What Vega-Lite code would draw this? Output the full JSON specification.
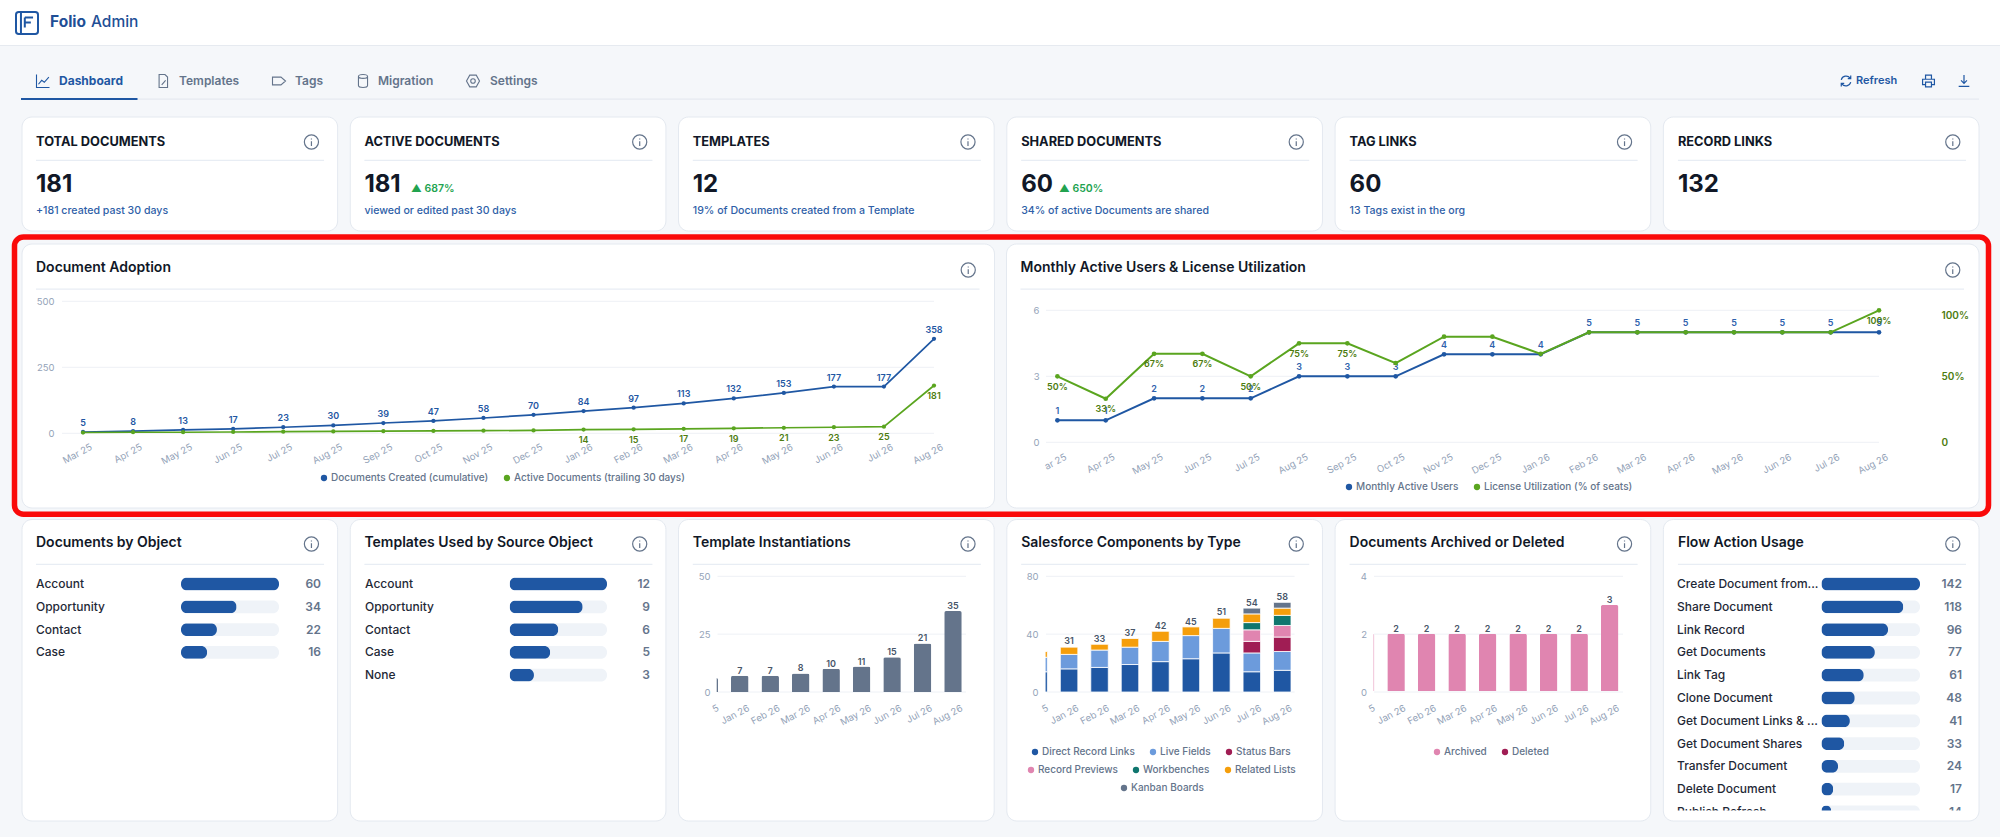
{
"$schema":"https://vega.github.io/schema/vega-lite/v6.json",
"width":2000,"height":837,"padding":0,"autosize":{"type":"none"},
"background":"#f5f7fa",
"config":{"font":"Inter","view":{"stroke":null},
 "scale":{"bandPaddingInner":0,"bandPaddingOuter":0,"barBandPaddingInner":0,"rectBandPaddingInner":0},
 "axis":{"domain":false,"ticks":false,"grid":false,"labelFont":"Inter","labelFontSize":9.5,"labelColor":"#94a3b8","labelPadding":0,"labelOverlap":false,"labelBound":false},
 "point":{"opacity":1}},
"datasets":{
"kpi":[
{"card":"TOTAL DOCUMENTS","value":"181","note":"+181 created past 30 days"},
{"card":"ACTIVE DOCUMENTS","value":"181","note":"viewed or edited past 30 days"},
{"card":"TEMPLATES","value":"12","note":"19% of Documents created from a Template"},
{"card":"SHARED DOCUMENTS","value":"60","note":"34% of active Documents are shared"},
{"card":"TAG LINKS","value":"60","note":"13 Tags exist in the org"},
{"card":"RECORD LINKS","value":"132","note":""}],
"wide":[{"card":"Document Adoption"},{"card":"Monthly Active Users & License Utilization"}],
"boards":[{"card":"Documents by Object"},{"card":"Templates Used by Source Object"},{"card":"Template Instantiations"},{"card":"Salesforce Components by Type"},{"card":"Documents Archived or Deleted"},{"card":"Flow Action Usage"}],
"tabs":[{"name":"Dashboard","i":0,"icon":"chart"},{"name":"Templates","i":1,"icon":"file"},{"name":"Tags","i":2,"icon":"tag"},{"name":"Migration","i":3,"icon":"db"},{"name":"Settings","i":4,"icon":"gear"}],
"tools":[{"i":0,"icon":"refresh"},{"i":1,"icon":"print"},{"i":2,"icon":"download"}],
"adoption":[
{"month":"Mar 25","series":"Created","value":5,"label":"5"},{"month":"Apr 25","series":"Created","value":8,"label":"8"},{"month":"May 25","series":"Created","value":13,"label":"13"},{"month":"Jun 25","series":"Created","value":17,"label":"17"},{"month":"Jul 25","series":"Created","value":23,"label":"23"},{"month":"Aug 25","series":"Created","value":30,"label":"30"},{"month":"Sep 25","series":"Created","value":39,"label":"39"},{"month":"Oct 25","series":"Created","value":47,"label":"47"},{"month":"Nov 25","series":"Created","value":58,"label":"58"},{"month":"Dec 25","series":"Created","value":70,"label":"70"},{"month":"Jan 26","series":"Created","value":84,"label":"84"},{"month":"Feb 26","series":"Created","value":97,"label":"97"},{"month":"Mar 26","series":"Created","value":113,"label":"113"},{"month":"Apr 26","series":"Created","value":132,"label":"132"},{"month":"May 26","series":"Created","value":153,"label":"153"},{"month":"Jun 26","series":"Created","value":177,"label":"177"},{"month":"Jul 26","series":"Created","value":177,"label":"177"},{"month":"Aug 26","series":"Created","value":358,"label":"358"},
{"month":"Mar 25","series":"Active","value":3,"label":""},{"month":"Apr 25","series":"Active","value":4,"label":""},{"month":"May 25","series":"Active","value":4,"label":""},{"month":"Jun 25","series":"Active","value":5,"label":""},{"month":"Jul 25","series":"Active","value":6,"label":""},{"month":"Aug 25","series":"Active","value":7,"label":""},{"month":"Sep 25","series":"Active","value":8,"label":""},{"month":"Oct 25","series":"Active","value":9,"label":""},{"month":"Nov 25","series":"Active","value":10,"label":""},{"month":"Dec 25","series":"Active","value":11,"label":""},{"month":"Jan 26","series":"Active","value":14,"label":"14"},{"month":"Feb 26","series":"Active","value":15,"label":"15"},{"month":"Mar 26","series":"Active","value":17,"label":"17"},{"month":"Apr 26","series":"Active","value":19,"label":"19"},{"month":"May 26","series":"Active","value":21,"label":"21"},{"month":"Jun 26","series":"Active","value":23,"label":"23"},{"month":"Jul 26","series":"Active","value":25,"label":"25"},{"month":"Aug 26","series":"Active","value":181,"label":"181"}],
"mau":[
{"month":"Mar 25","users":1,"util":50,"util_label":"50%"},{"month":"Apr 25","users":1,"util":33,"util_label":"33%"},{"month":"May 25","users":2,"util":67,"util_label":"67%"},{"month":"Jun 25","users":2,"util":67,"util_label":"67%"},{"month":"Jul 25","users":2,"util":50,"util_label":"50%"},{"month":"Aug 25","users":3,"util":75,"util_label":"75%"},{"month":"Sep 25","users":3,"util":75,"util_label":"75%"},{"month":"Oct 25","users":3,"util":60,"util_label":""},{"month":"Nov 25","users":4,"util":80,"util_label":""},{"month":"Dec 25","users":4,"util":80,"util_label":""},{"month":"Jan 26","users":4,"util":67,"util_label":""},{"month":"Feb 26","users":5,"util":83.3,"util_label":""},{"month":"Mar 26","users":5,"util":83.3,"util_label":""},{"month":"Apr 26","users":5,"util":83.3,"util_label":""},{"month":"May 26","users":5,"util":83.3,"util_label":""},{"month":"Jun 26","users":5,"util":83.3,"util_label":""},{"month":"Jul 26","users":5,"util":83.3,"util_label":""},{"month":"Aug 26","users":5,"util":100,"util_label":"100%"}],
"docs":[{"name":"Account","count":60},{"name":"Opportunity","count":34},{"name":"Contact","count":22},{"name":"Case","count":16}],
"used":[{"name":"Account","count":12},{"name":"Opportunity","count":9},{"name":"Contact","count":6},{"name":"Case","count":5},{"name":"None","count":3}],
"flow":[{"name":"Create Document from...","count":142},{"name":"Share Document","count":118},{"name":"Link Record","count":96},{"name":"Get Documents","count":77},{"name":"Link Tag","count":61},{"name":"Clone Document","count":48},{"name":"Get Document Links & ...","count":41},{"name":"Get Document Shares","count":33},{"name":"Transfer Document","count":24},{"name":"Delete Document","count":17},{"name":"Publish Refresh","count":14}],
"inst":[{"month":"Dec 25","count":6,"label":""},{"month":"Jan 26","count":7,"label":"7"},{"month":"Feb 26","count":7,"label":"7"},{"month":"Mar 26","count":8,"label":"8"},{"month":"Apr 26","count":10,"label":"10"},{"month":"May 26","count":11,"label":"11"},{"month":"Jun 26","count":15,"label":"15"},{"month":"Jul 26","count":21,"label":"21"},{"month":"Aug 26","count":35,"label":"35"}],
"arch":[{"month":"Dec 25","count":2,"label":""},{"month":"Jan 26","count":2,"label":"2"},{"month":"Feb 26","count":2,"label":"2"},{"month":"Mar 26","count":2,"label":"2"},{"month":"Apr 26","count":2,"label":"2"},{"month":"May 26","count":2,"label":"2"},{"month":"Jun 26","count":2,"label":"2"},{"month":"Jul 26","count":2,"label":"2"},{"month":"Aug 26","count":3,"label":"3"}],
"comp":[
{"month":"Dec 25","type":"Direct Record Links","k":1,"count":14},{"month":"Dec 25","type":"Live Fields","k":2,"count":10},{"month":"Dec 25","type":"Related Lists","k":6,"count":4},
{"month":"Jan 26","type":"Direct Record Links","k":1,"count":16},{"month":"Jan 26","type":"Live Fields","k":2,"count":10},{"month":"Jan 26","type":"Related Lists","k":6,"count":5},
{"month":"Feb 26","type":"Direct Record Links","k":1,"count":17},{"month":"Feb 26","type":"Live Fields","k":2,"count":12},{"month":"Feb 26","type":"Related Lists","k":6,"count":4},
{"month":"Mar 26","type":"Direct Record Links","k":1,"count":19},{"month":"Mar 26","type":"Live Fields","k":2,"count":12},{"month":"Mar 26","type":"Related Lists","k":6,"count":6},
{"month":"Apr 26","type":"Direct Record Links","k":1,"count":21},{"month":"Apr 26","type":"Live Fields","k":2,"count":14},{"month":"Apr 26","type":"Related Lists","k":6,"count":7},
{"month":"May 26","type":"Direct Record Links","k":1,"count":23},{"month":"May 26","type":"Live Fields","k":2,"count":16},{"month":"May 26","type":"Related Lists","k":6,"count":6},
{"month":"Jun 26","type":"Direct Record Links","k":1,"count":27},{"month":"Jun 26","type":"Live Fields","k":2,"count":17},{"month":"Jun 26","type":"Related Lists","k":6,"count":7},
{"month":"Jul 26","type":"Direct Record Links","k":1,"count":14},{"month":"Jul 26","type":"Live Fields","k":2,"count":13},{"month":"Jul 26","type":"Status Bars","k":3,"count":8},{"month":"Jul 26","type":"Record Previews","k":4,"count":8},{"month":"Jul 26","type":"Workbenches","k":5,"count":5},{"month":"Jul 26","type":"Related Lists","k":6,"count":6},{"month":"Jul 26","type":"Kanban Boards","k":7,"count":4},
{"month":"Aug 26","type":"Direct Record Links","k":1,"count":15},{"month":"Aug 26","type":"Live Fields","k":2,"count":13},{"month":"Aug 26","type":"Status Bars","k":3,"count":10},{"month":"Aug 26","type":"Record Previews","k":4,"count":8},{"month":"Aug 26","type":"Workbenches","k":5,"count":7},{"month":"Aug 26","type":"Related Lists","k":6,"count":5},{"month":"Aug 26","type":"Kanban Boards","k":7,"count":4}],
"comp_totals":[{"month":"Jan 26","top":32,"label":"31"},{"month":"Feb 26","top":33,"label":"33"},{"month":"Mar 26","top":37,"label":"37"},{"month":"Apr 26","top":42,"label":"42"},{"month":"May 26","top":45,"label":"45"},{"month":"Jun 26","top":52,"label":"51"},{"month":"Jul 26","top":58,"label":"54"},{"month":"Aug 26","top":62,"label":"58"}]
},
"resolve":{"scale":{"x":"independent","y":"independent","color":"independent","shape":"independent"},"axis":{"x":"independent","y":"independent"}},
"layer":[
{"data":{"values":[{"band":"bar"}]},"mark":{"type":"rect","fill":"#ffffff"},"encoding":{"x":{"field":"band","type":"nominal","scale":{"type":"band","range":[0,2000]},"axis":null},"y":{"field":"band","type":"nominal","scale":{"type":"band","range":[0,45.5]},"axis":null}}},
{"data":{"values":[{"band":"bar"}]},"mark":{"type":"rect","fill":"#e6eaf0"},"encoding":{"x":{"field":"band","type":"nominal","scale":{"type":"band","range":[0,2000]},"axis":null},"y":{"field":"band","type":"nominal","scale":{"type":"band","range":[45,46]},"axis":null}}},
{"data":{"values":[{"logo":"Folio Admin"}]},"mark":{"type":"point","filled":false,"size":484,"strokeWidth":2,"color":"#1f57a3","shape":"M-0.75,-1 H0.75 Q1,-1 1,-0.75 V0.75 Q1,1 0.75,1 H-0.75 Q-1,1 -1,0.75 V-0.75 Q-1,-1 -0.75,-1 Z M-0.55,-1 V1 M-0.2,-0.5 H0.55 M-0.2,-0.5 V0.4 M-0.2,-0.05 H0.35"},"encoding":{"x":{"field":"logo","type":"nominal","scale":{"type":"band","range":[26,28]},"axis":null},"y":{"field":"logo","type":"nominal","scale":{"type":"band","range":[22,24]},"axis":null}}},
{"data":{"values":[{"part":"Folio"}]},"mark":{"type":"text","align":"left","fontSize":15.5,"fontWeight":700,"color":"#1f4f96"},"encoding":{"text":{"field":"part"},"x":{"field":"part","type":"nominal","scale":{"type":"band","range":[50,51]},"bandPosition":0,"axis":null},"y":{"field":"part","type":"nominal","scale":{"type":"band","range":[21,23]},"axis":null}}},
{"data":{"values":[{"part":"Admin"}]},"mark":{"type":"text","align":"left","fontSize":15.5,"fontWeight":500,"color":"#1f4f96"},"encoding":{"text":{"field":"part"},"x":{"field":"part","type":"nominal","scale":{"type":"band","range":[91,92]},"bandPosition":0,"axis":null},"y":{"field":"part","type":"nominal","scale":{"type":"band","range":[21,23]},"axis":null}}},
{"data":{"values":[{"band":"tabs"}]},"mark":{"type":"rect","fill":"#e6eaf0"},"encoding":{"x":{"field":"band","type":"nominal","scale":{"type":"band","range":[21,1979]},"axis":null},"y":{"field":"band","type":"nominal","scale":{"type":"band","range":[98.5,99.7]},"axis":null}}},
{"data":{"values":[{"band":"active"}]},"mark":{"type":"rect","fill":"#1f57a3"},"encoding":{"x":{"field":"band","type":"nominal","scale":{"type":"band","range":[21,137.5]},"axis":null},"y":{"field":"band","type":"nominal","scale":{"type":"band","range":[98,100]},"axis":null}}},
{"data":{"name":"tabs"},"mark":{"type":"point","filled":false,"size":169,"strokeWidth":1.1},"encoding":{"x":{"field":"i","type":"quantitative","scale":{"domain":[0,1,2,3,4],"range":[43,163,279,363,473]},"axis":null},"y":{"field":"icon","type":"nominal","scale":{"type":"point","domain":["chart","file","tag","db","gear"],"range":[81,81]},"axis":null},"shape":{"field":"icon","type":"nominal","legend":null,"scale":{"domain":["chart","file","tag","db","gear"],"range":["M-1,-1 V1 H1 M-0.7,0.5 L-0.2,-0.1 L0.2,0.2 L0.9,-0.6","M-0.6,-1 H0.3 L0.7,-0.6 V1 H-0.6 Z M-0.2,0.6 L0.4,-0.1","M-1,-0.6 H0.3 L1,0 L0.3,0.6 H-1 Z","M-0.7,-0.7 a0.7,0.3 0 1,0 1.4,0 a0.7,0.3 0 1,0 -1.4,0 M-0.7,-0.7 V0.7 a0.7,0.3 0 0,0 1.4,0 V-0.7","M-0.5,-0.9 H0.5 L1,0 L0.5,0.9 H-0.5 L-1,0 Z M-0.35,0 a0.35,0.35 0 1,0 0.7,0 a0.35,0.35 0 1,0 -0.7,0"]}},"color":{"condition":{"test":"datum.i==0","value":"#1f57a3"},"value":"#64748b"}}},
{"data":{"name":"tabs"},"transform":[{"filter":"datum.i>0"}],"mark":{"type":"text","align":"left","fontSize":12,"fontWeight":600,"color":"#64748b"},"encoding":{"text":{"field":"name"},"x":{"field":"i","type":"quantitative","scale":{"domain":[0,1,2,3,4],"range":[59,179,295,378,490]},"axis":null},"y":{"datum":"tab","type":"nominal","scale":{"type":"band","range":[80,82]},"axis":null}}},
{"data":{"name":"tabs"},"transform":[{"filter":"datum.i==0"}],"mark":{"type":"text","align":"left","fontSize":12,"fontWeight":700,"color":"#1f57a3"},"encoding":{"text":{"field":"name"},"x":{"field":"i","type":"quantitative","scale":{"domain":[0,1,2,3,4],"range":[59,179,295,378,490]},"axis":null},"y":{"datum":"tab","type":"nominal","scale":{"type":"band","range":[80,82]},"axis":null}}},
{"data":{"name":"tools"},"mark":{"type":"point","filled":false,"size":140,"strokeWidth":1.2,"color":"#1f57a3"},"encoding":{"x":{"field":"i","type":"quantitative","scale":{"domain":[0,1,2],"range":[1846,1928.5,1964]},"axis":null},"y":{"field":"icon","type":"nominal","scale":{"type":"point","domain":["refresh","print","download"],"range":[81,81]},"axis":null},"shape":{"field":"icon","type":"nominal","legend":null,"scale":{"domain":["refresh","print","download"],"range":["M-0.8,-0.2 A0.85,0.85 0 0,1 0.7,-0.5 M0.8,-0.95 V-0.4 H0.3 M0.8,0.2 A0.85,0.85 0 0,1 -0.7,0.5 M-0.8,0.95 V0.4 H-0.3","M-0.5,-0.3 V-1 H0.5 V-0.3 M-0.5,0.6 H-1 V-0.3 H1 V0.6 H0.5 M-0.5,0.2 H0.5 V1 H-0.5 Z","M0,-1 V0.4 M-0.5,-0.1 L0,0.4 L0.5,-0.1 M-0.9,0.9 H0.9"]}}}},
{"data":{"values":[{"tool":"Refresh"}]},"mark":{"type":"text","align":"left","fontSize":11,"fontWeight":600,"color":"#1f57a3"},"encoding":{"text":{"field":"tool"},"x":{"field":"tool","type":"nominal","scale":{"type":"band","range":[1856,1857]},"bandPosition":0,"axis":null},"y":{"field":"tool","type":"nominal","scale":{"type":"band","range":[80,82]},"axis":null}}},

{"data":{"name":"kpi"},"mark":{"type":"rect","fill":"#ffffff","stroke":"#e4e9f0","cornerRadius":10},"encoding":{"x":{"field":"card","type":"nominal","sort":null,"scale":{"type":"band","range":[22,1979],"paddingInner":0.0385,"paddingOuter":0},"axis":null},"y":{"datum":"card","type":"nominal","scale":{"type":"band","range":[117,231]},"axis":null}}},
{"data":{"name":"kpi"},"mark":{"type":"rect","fill":"#e8edf4"},"encoding":{"x":{"field":"card","type":"nominal","sort":null,"scale":{"type":"band","range":[36,1966],"paddingInner":0.1228,"paddingOuter":0},"axis":null},"y":{"datum":"rule","type":"nominal","scale":{"type":"band","range":[159.8,160.9]},"axis":null}}},
{"data":{"name":"kpi"},"mark":{"type":"text","align":"left","fontSize":12.8,"fontWeight":700,"color":"#111827"},"encoding":{"text":{"field":"card"},"x":{"field":"card","type":"nominal","sort":null,"bandPosition":0,"scale":{"type":"band","range":[36,1966],"paddingInner":0.1228,"paddingOuter":0},"axis":null},"y":{"datum":"label","type":"nominal","scale":{"type":"band","range":[141,143]},"axis":null}}},
{"data":{"name":"kpi"},"mark":{"type":"text","align":"left","fontSize":24,"fontWeight":700,"color":"#111827"},"encoding":{"text":{"field":"value"},"x":{"field":"card","type":"nominal","sort":null,"bandPosition":0,"scale":{"type":"band","range":[36,1966],"paddingInner":0.1228,"paddingOuter":0},"axis":null},"y":{"datum":"value","type":"nominal","scale":{"type":"band","range":[184,186]},"axis":null}}},
{"data":{"name":"kpi"},"mark":{"type":"text","align":"left","fontSize":10.6,"fontWeight":500,"color":"#2f5fa8"},"encoding":{"text":{"field":"note"},"x":{"field":"card","type":"nominal","sort":null,"bandPosition":0,"scale":{"type":"band","range":[36,1966],"paddingInner":0.1228,"paddingOuter":0},"axis":null},"y":{"datum":"note","type":"nominal","scale":{"type":"band","range":[210,212]},"axis":null}}},
{"data":{"values":[{"card":"ACTIVE DOCUMENTS","delta":"▲ 687%"},{"card":"SHARED DOCUMENTS","delta":"▲ 650%"}]},"mark":{"type":"text","align":"left","fontSize":10.5,"fontWeight":600,"color":"#22a34f"},"encoding":{"text":{"field":"delta"},"x":{"field":"card","type":"nominal","scale":{"type":"point","range":[411,1059],"padding":0},"axis":null},"y":{"datum":"delta","type":"nominal","scale":{"type":"band","range":[188,190]},"axis":null}}},
{"data":{"name":"kpi"},"mark":{"type":"point","filled":false,"size":200,"strokeWidth":1.2,"color":"#64748b","shape":"M-1,0 a1,1 0 1,0 2,0 a1,1 0 1,0 -2,0 M0,-0.5 V-0.35 M0,-0.1 V0.55"},"encoding":{"x":{"field":"card","type":"nominal","sort":null,"bandPosition":0.917,"scale":{"type":"band","range":[22,1979],"paddingInner":0.0385,"paddingOuter":0},"axis":null},"y":{"datum":"info","type":"nominal","scale":{"type":"band","range":[141,143]},"axis":null}}},

{"data":{"values":[{"box":"highlight"}]},"mark":{"type":"rect","fill":null,"stroke":"#fa0a0a","strokeWidth":5.5,"cornerRadius":9},"encoding":{"x":{"field":"box","type":"nominal","scale":{"type":"band","range":[14.5,1988.5]},"axis":null},"y":{"field":"box","type":"nominal","scale":{"type":"band","range":[237,514.3]},"axis":null}}},
{"data":{"name":"wide"},"mark":{"type":"rect","fill":"#ffffff","stroke":"#e4e9f0","cornerRadius":10},"encoding":{"x":{"field":"card","type":"nominal","sort":null,"scale":{"type":"band","range":[22,1979],"paddingInner":0.0122,"paddingOuter":0},"axis":null},"y":{"datum":"card","type":"nominal","scale":{"type":"band","range":[244,508]},"axis":null}}},
{"data":{"name":"wide"},"mark":{"type":"rect","fill":"#e8edf4"},"encoding":{"x":{"field":"card","type":"nominal","sort":null,"scale":{"type":"band","range":[36,1964],"paddingInner":0.0416,"paddingOuter":0},"axis":null},"y":{"datum":"rule","type":"nominal","scale":{"type":"band","range":[288.6,289.7]},"axis":null}}},
{"data":{"name":"wide"},"mark":{"type":"text","align":"left","fontSize":14,"fontWeight":600,"color":"#111827"},"encoding":{"text":{"field":"card"},"x":{"field":"card","type":"nominal","sort":null,"bandPosition":0,"scale":{"type":"band","range":[36,1964],"paddingInner":0.0416,"paddingOuter":0},"axis":null},"y":{"datum":"title","type":"nominal","scale":{"type":"band","range":[267,269]},"axis":null}}},
{"data":{"name":"wide"},"mark":{"type":"point","filled":false,"size":200,"strokeWidth":1.2,"color":"#64748b","shape":"M-1,0 a1,1 0 1,0 2,0 a1,1 0 1,0 -2,0 M0,-0.5 V-0.35 M0,-0.1 V0.55"},"encoding":{"x":{"field":"card","type":"nominal","sort":null,"bandPosition":0.973,"scale":{"type":"band","range":[22,1979],"paddingInner":0.0122,"paddingOuter":0},"axis":null},"y":{"datum":"info","type":"nominal","scale":{"type":"band","range":[269,271]},"axis":null}}},

{"data":{"values":[{"tick":0},{"tick":250},{"tick":500}]},"mark":{"type":"rule","color":"#eef1f6"},"encoding":{"x":{"datum":0,"type":"quantitative","scale":{"domain":[0,1],"range":[62,934]},"axis":null},"x2":{"datum":1},"y":{"field":"tick","type":"quantitative","title":null,"scale":{"domain":[0,500],"range":[433.3,301.3]},"axis":{"orient":"left","offset":-54,"values":[0,250,500],"zindex":1}}}},
{"data":{"name":"adoption"},"encoding":{"x":{"field":"month","type":"nominal","sort":null,"title":null,"scale":{"type":"point","range":[83,934],"padding":0},"axis":{"orient":"bottom","offset":-391,"labelAngle":-28,"labelAlign":"right","labelBaseline":"middle","labelOffset":8,"zindex":1}},"y":{"field":"value","type":"quantitative","scale":{"domain":[0,500],"range":[433.3,301.3]},"axis":null},"color":{"field":"series","type":"nominal","legend":null,"scale":{"domain":["Created","Active"],"range":["#1f57a3","#5aa51f"]}}},"layer":[
 {"mark":{"type":"line","strokeWidth":1.7,"point":{"filled":true,"size":18}}},
 {"transform":[{"filter":"datum.series=='Created'"}],"mark":{"type":"text","dy":-9,"fontSize":9,"fontWeight":600,"color":"#1f57a3"},"encoding":{"text":{"field":"label"},"color":{"value":"#1f57a3"}}},
 {"transform":[{"filter":"datum.series=='Active'"}],"mark":{"type":"text","dy":10.5,"fontSize":9,"fontWeight":600,"color":"#4d7c0f"},"encoding":{"text":{"field":"label"},"color":{"value":"#4d7c0f"}}}
]},
{"data":{"values":[]},"mark":{"type":"point","filled":true},"encoding":{"color":{"field":"item","type":"nominal","scale":{"domain":["Documents Created (cumulative)","Active Documents (trailing 30 days)"],"range":["#1f57a3","#5aa51f"]},"legend":{"orient":"none","legendX":319,"legendY":473,"direction":"horizontal","title":null,"symbolType":"circle","symbolSize":40,"labelFont":"Inter","labelFontSize":10,"labelFontWeight":500,"labelColor":"#64748b","labelLimit":300,"labelOffset":2,"columnPadding":13,"zindex":1}}}},

{"data":{"values":[{"tick":0},{"tick":3},{"tick":6}]},"mark":{"type":"rule","color":"#eef1f6"},"encoding":{"x":{"datum":0,"type":"quantitative","scale":{"domain":[0,1],"range":[1046,1879]},"axis":null},"x2":{"datum":1},"y":{"field":"tick","type":"quantitative","title":null,"scale":{"domain":[0,6],"range":[442.3,310.3]},"axis":{"orient":"left","offset":-1039,"values":[0,3,6],"zindex":1}}}},
{"data":{"name":"mau"},"encoding":{"x":{"field":"month","type":"nominal","sort":null,"title":null,"scale":{"type":"point","range":[1057.4,1879],"padding":0},"axis":{"orient":"bottom","offset":-381,"labelAngle":-28,"labelAlign":"right","labelBaseline":"middle","labelOffset":8,"zindex":1,"labelExpr":"datum.label=='Mar 25'?'ar 25':datum.label"}},"y":{"field":"users","type":"quantitative","scale":{"domain":[0,6],"range":[442.3,310.3]},"axis":null}},"layer":[
 {"mark":{"type":"line","strokeWidth":2,"color":"#1f57a3","point":{"filled":true,"size":22,"color":"#1f57a3"}}},
 {"mark":{"type":"text","dy":-9,"fontSize":9,"fontWeight":600,"color":"#2f62ad"},"encoding":{"text":{"field":"users","type":"quantitative"}}}
]},
{"data":{"name":"mau"},"encoding":{"x":{"field":"month","type":"nominal","sort":null,"scale":{"type":"point","range":[1057.4,1879],"padding":0},"axis":null},"y":{"field":"util","type":"quantitative","title":null,"scale":{"domain":[0,100],"range":[442.3,310.3]},"axis":{"orient":"right","offset":-59,"values":[0,50,100],"zindex":1,"labelColor":"#4d7c0f","labelFontWeight":600,"labelFontSize":10,"labelExpr":"datum.value ? datum.value + '%' : '0'","labelBaseline":{"condition":{"test":"datum.value>=100","value":"top"},"value":"middle"}}}},"layer":[
 {"mark":{"type":"line","strokeWidth":2,"color":"#5aa51f","point":{"filled":true,"size":22,"color":"#5aa51f"}}},
 {"mark":{"type":"text","dy":10.5,"fontSize":9,"fontWeight":600,"color":"#4d7c0f"},"encoding":{"text":{"field":"util_label"}}}
]},
{"data":{"values":[]},"mark":{"type":"point","filled":true},"encoding":{"color":{"field":"item","type":"nominal","scale":{"domain":["Monthly Active Users","License Utilization (% of seats)"],"range":["#1f57a3","#5aa51f"]},"legend":{"orient":"none","legendX":1344,"legendY":482,"direction":"horizontal","title":null,"symbolType":"circle","symbolSize":40,"labelFont":"Inter","labelFontSize":10,"labelFontWeight":500,"labelColor":"#64748b","labelLimit":300,"labelOffset":2,"columnPadding":13,"zindex":1}}}},

{"data":{"name":"boards"},"mark":{"type":"rect","fill":"#ffffff","stroke":"#e4e9f0","cornerRadius":10},"encoding":{"x":{"field":"card","type":"nominal","sort":null,"scale":{"type":"band","range":[22,1979],"paddingInner":0.0385,"paddingOuter":0},"axis":null},"y":{"datum":"card","type":"nominal","scale":{"type":"band","range":[519.5,821]},"axis":null}}},
{"data":{"name":"boards"},"mark":{"type":"rect","fill":"#e8edf4"},"encoding":{"x":{"field":"card","type":"nominal","sort":null,"scale":{"type":"band","range":[36,1966],"paddingInner":0.1228,"paddingOuter":0},"axis":null},"y":{"datum":"rule","type":"nominal","scale":{"type":"band","range":[563.8,564.9]},"axis":null}}},
{"data":{"name":"boards"},"mark":{"type":"text","align":"left","fontSize":14,"fontWeight":600,"color":"#111827"},"encoding":{"text":{"field":"card"},"x":{"field":"card","type":"nominal","sort":null,"bandPosition":0,"scale":{"type":"band","range":[36,1966],"paddingInner":0.1228,"paddingOuter":0},"axis":null},"y":{"datum":"title","type":"nominal","scale":{"type":"band","range":[542,544]},"axis":null}}},
{"data":{"name":"boards"},"mark":{"type":"point","filled":false,"size":200,"strokeWidth":1.2,"color":"#64748b","shape":"M-1,0 a1,1 0 1,0 2,0 a1,1 0 1,0 -2,0 M0,-0.5 V-0.35 M0,-0.1 V0.55"},"encoding":{"x":{"field":"card","type":"nominal","sort":null,"bandPosition":0.917,"scale":{"type":"band","range":[22,1979],"paddingInner":0.0385,"paddingOuter":0},"axis":null},"y":{"datum":"info","type":"nominal","scale":{"type":"band","range":[543,545]},"axis":null}}},

{"data":{"name":"docs"},"encoding":{"y":{"field":"name","type":"nominal","sort":null,"scale":{"type":"band","range":[572.6,663.8],"paddingInner":0.44,"paddingOuter":0.22},"axis":null},"x":{"field":"count","type":"quantitative","scale":{"domain":[0,60],"range":[181,279]},"axis":null}},"layer":[
 {"mark":{"type":"bar","color":"#eff3f8","cornerRadius":6},"encoding":{"x":{"datum":60,"type":"quantitative"},"x2":{"datum":0}}},
 {"mark":{"type":"bar","color":"#1f57a3","cornerRadius":6}},
 {"mark":{"type":"text","align":"left","dx":-145,"fontSize":12,"fontWeight":500,"color":"#1f2937"},"encoding":{"x":{"datum":0,"type":"quantitative"},"text":{"field":"name"}}},
 {"mark":{"type":"text","align":"right","dx":42,"fontSize":12,"fontWeight":600,"color":"#64748b"},"encoding":{"x":{"datum":60,"type":"quantitative"},"text":{"field":"count","type":"quantitative"}}}
]},
{"data":{"name":"used"},"encoding":{"y":{"field":"name","type":"nominal","sort":null,"scale":{"type":"band","range":[572.6,686.6],"paddingInner":0.44,"paddingOuter":0.22},"axis":null},"x":{"field":"count","type":"quantitative","scale":{"domain":[0,12],"range":[509.6,607]},"axis":null}},"layer":[
 {"mark":{"type":"bar","color":"#eff3f8","cornerRadius":6},"encoding":{"x":{"datum":12,"type":"quantitative"},"x2":{"datum":0}}},
 {"mark":{"type":"bar","color":"#1f57a3","cornerRadius":6}},
 {"mark":{"type":"text","align":"left","dx":-144.6,"fontSize":12,"fontWeight":500,"color":"#1f2937"},"encoding":{"x":{"datum":0,"type":"quantitative"},"text":{"field":"name"}}},
 {"mark":{"type":"text","align":"right","dx":43,"fontSize":12,"fontWeight":600,"color":"#64748b"},"encoding":{"x":{"datum":12,"type":"quantitative"},"text":{"field":"count","type":"quantitative"}}}
]},
{"data":{"name":"flow"},"encoding":{"y":{"field":"name","type":"nominal","sort":null,"scale":{"type":"band","range":[572.6,823.4],"paddingInner":0.44,"paddingOuter":0.22},"axis":null},"x":{"field":"count","type":"quantitative","scale":{"domain":[0,142],"range":[1821.4,1920]},"axis":null}},"layer":[
 {"mark":{"type":"bar","color":"#eff3f8","cornerRadius":6},"encoding":{"x":{"datum":142,"type":"quantitative"},"x2":{"datum":0}}},
 {"mark":{"type":"bar","color":"#1f57a3","cornerRadius":6}},
 {"mark":{"type":"text","align":"left","dx":-144.4,"fontSize":12,"fontWeight":500,"color":"#1f2937"},"encoding":{"x":{"datum":0,"type":"quantitative"},"text":{"field":"name"}}},
 {"mark":{"type":"text","align":"right","dx":42,"fontSize":12,"fontWeight":600,"color":"#64748b"},"encoding":{"x":{"datum":142,"type":"quantitative"},"text":{"field":"count","type":"quantitative"}}}
]},
{"data":{"values":[{"band":"cover"}]},"mark":{"type":"rect","fill":"#ffffff"},"encoding":{"x":{"field":"band","type":"nominal","scale":{"type":"band","range":[1670,1970]},"axis":null},"y":{"field":"band","type":"nominal","scale":{"type":"band","range":[810.5,819]},"axis":null}}},

{"data":{"values":[{"tick":0},{"tick":25},{"tick":50}]},"mark":{"type":"rule","color":"#eef1f6"},"encoding":{"x":{"datum":0,"type":"quantitative","scale":{"domain":[0,1],"range":[717.5,966]},"axis":null},"x2":{"datum":1},"y":{"field":"tick","type":"quantitative","title":null,"scale":{"domain":[0,50],"range":[692,576.3]},"axis":{"orient":"left","offset":-710,"values":[0,25,50],"zindex":1}}}},
{"data":{"name":"inst"},"encoding":{"x":{"field":"month","type":"nominal","sort":null,"title":null,"scale":{"type":"band","range":[694.07,968.2],"paddingInner":0.425,"paddingOuter":0.2125},"axis":{"orient":"bottom","offset":-130,"labelAngle":-28,"labelAlign":"right","labelBaseline":"middle","labelOffset":9,"zindex":1,"labelExpr":"datum.label=='Dec 25'?'5':datum.label"}},"y":{"field":"count","type":"quantitative","scale":{"domain":[0,50],"range":[692,576.3]},"axis":null}},"layer":[
 {"mark":{"type":"bar","color":"#64748b","cornerRadiusTopLeft":2,"cornerRadiusTopRight":2}},
 {"mark":{"type":"text","dy":-5,"baseline":"middle","fontSize":9,"fontWeight":600,"color":"#475569"},"encoding":{"text":{"field":"label"}}}
]},
{"data":{"values":[{"band":"cover"}]},"mark":{"type":"rect","fill":"#ffffff"},"encoding":{"x":{"field":"band","type":"nominal","scale":{"type":"band","range":[697,716.7]},"axis":null},"y":{"field":"band","type":"nominal","scale":{"type":"band","range":[570,693]},"axis":null}}},

{"data":{"values":[{"tick":0},{"tick":40},{"tick":80}]},"mark":{"type":"rule","color":"#eef1f6"},"encoding":{"x":{"datum":0,"type":"quantitative","scale":{"domain":[0,1],"range":[1046,1294.6]},"axis":null},"x2":{"datum":1},"y":{"field":"tick","type":"quantitative","title":null,"scale":{"domain":[0,80],"range":[692,576.3]},"axis":{"orient":"left","offset":-1038,"values":[0,40,80],"zindex":1}}}},
{"encoding":{"x":{"field":"month","type":"nominal","title":null,"scale":{"type":"band","domain":["Dec 25","Jan 26","Feb 26","Mar 26","Apr 26","May 26","Jun 26","Jul 26","Aug 26"],"range":[1023.4,1297.5],"paddingInner":0.425,"paddingOuter":0.2125},"axis":{"orient":"bottom","offset":-130,"labelAngle":-28,"labelAlign":"right","labelBaseline":"middle","labelOffset":9,"zindex":1,"labelExpr":"datum.label=='Dec 25'?'5':datum.label"}}},"layer":[
 {"data":{"name":"comp"},"mark":{"type":"bar","stroke":"#ffffff","strokeWidth":0.8},"encoding":{"y":{"field":"count","type":"quantitative","aggregate":"sum","scale":{"domain":[0,80],"range":[692,576.3]},"axis":null},"order":{"field":"k","type":"quantitative"},"color":{"field":"type","type":"nominal","legend":null,"scale":{"domain":["Direct Record Links","Live Fields","Status Bars","Record Previews","Workbenches","Related Lists","Kanban Boards"],"range":["#1f57a3","#6c9bdc","#a01d54","#e085b0","#0f766e","#f59e0b","#64748b"]}}}},
 {"data":{"name":"comp_totals"},"mark":{"type":"text","dy":-5,"baseline":"middle","fontSize":9,"fontWeight":600,"color":"#475569"},"encoding":{"y":{"field":"top","type":"quantitative"},"text":{"field":"label"}}}
]},
{"data":{"values":[{"band":"cover"}]},"mark":{"type":"rect","fill":"#ffffff"},"encoding":{"x":{"field":"band","type":"nominal","scale":{"type":"band","range":[1025,1045.6]},"axis":null},"y":{"field":"band","type":"nominal","scale":{"type":"band","range":[570,693]},"axis":null}}},
{"data":{"values":[]},"mark":{"type":"point","filled":true},"encoding":{"color":{"field":"item","type":"nominal","scale":{"domain":["Direct Record Links","Live Fields","Status Bars"],"range":["#1f57a3","#6c9bdc","#a01d54"]},"legend":{"orient":"none","legendX":1030,"legendY":747,"direction":"horizontal","title":null,"symbolType":"circle","symbolSize":40,"labelFont":"Inter","labelFontSize":10,"labelFontWeight":500,"labelColor":"#64748b","labelLimit":300,"labelOffset":2,"columnPadding":13,"zindex":1}}}},
{"data":{"values":[]},"mark":{"type":"point","filled":true},"encoding":{"color":{"field":"item","type":"nominal","scale":{"domain":["Record Previews","Workbenches","Related Lists"],"range":["#e085b0","#0f766e","#f59e0b"]},"legend":{"orient":"none","legendX":1026,"legendY":765,"direction":"horizontal","title":null,"symbolType":"circle","symbolSize":40,"labelFont":"Inter","labelFontSize":10,"labelFontWeight":500,"labelColor":"#64748b","labelLimit":300,"labelOffset":2,"columnPadding":13,"zindex":1}}}},
{"data":{"values":[]},"mark":{"type":"point","filled":true},"encoding":{"color":{"field":"item","type":"nominal","scale":{"domain":["Kanban Boards"],"range":["#64748b"]},"legend":{"orient":"none","legendX":1119,"legendY":783,"direction":"horizontal","title":null,"symbolType":"circle","symbolSize":40,"labelFont":"Inter","labelFontSize":10,"labelFontWeight":500,"labelColor":"#64748b","labelLimit":300,"labelOffset":2,"columnPadding":13,"zindex":1}}}},

{"data":{"values":[{"tick":0},{"tick":2},{"tick":4}]},"mark":{"type":"rule","color":"#eef1f6"},"encoding":{"x":{"datum":0,"type":"quantitative","scale":{"domain":[0,1],"range":[1374,1623]},"axis":null},"x2":{"datum":1},"y":{"field":"tick","type":"quantitative","title":null,"scale":{"domain":[0,4],"range":[692,576.3]},"axis":{"orient":"left","offset":-1366.5,"values":[0,2,4],"zindex":1}}}},
{"data":{"name":"arch"},"encoding":{"x":{"field":"month","type":"nominal","sort":null,"title":null,"scale":{"type":"band","range":[1350.3,1624.9],"paddingInner":0.425,"paddingOuter":0.2125},"axis":{"orient":"bottom","offset":-130,"labelAngle":-28,"labelAlign":"right","labelBaseline":"middle","labelOffset":9,"zindex":1,"labelExpr":"datum.label=='Dec 25'?'5':datum.label"}},"y":{"field":"count","type":"quantitative","scale":{"domain":[0,4],"range":[691,576.3]},"axis":null}},"layer":[
 {"mark":{"type":"bar","color":"#e085b0","cornerRadiusTopLeft":2,"cornerRadiusTopRight":2}},
 {"mark":{"type":"text","dy":-5,"baseline":"middle","fontSize":9,"fontWeight":600,"color":"#475569"},"encoding":{"text":{"field":"label"}}}
]},
{"data":{"values":[{"band":"cover"}]},"mark":{"type":"rect","fill":"#ffffff"},"encoding":{"x":{"field":"band","type":"nominal","scale":{"type":"band","range":[1352,1373.6]},"axis":null},"y":{"field":"band","type":"nominal","scale":{"type":"band","range":[570,693]},"axis":null}}},
{"data":{"values":[]},"mark":{"type":"point","filled":true},"encoding":{"color":{"field":"item","type":"nominal","scale":{"domain":["Archived","Deleted"],"range":["#e085b0","#a01d54"]},"legend":{"orient":"none","legendX":1432,"legendY":747,"direction":"horizontal","title":null,"symbolType":"circle","symbolSize":40,"labelFont":"Inter","labelFontSize":10,"labelFontWeight":500,"labelColor":"#64748b","labelLimit":300,"labelOffset":2,"columnPadding":13,"zindex":1}}}}
]
}
